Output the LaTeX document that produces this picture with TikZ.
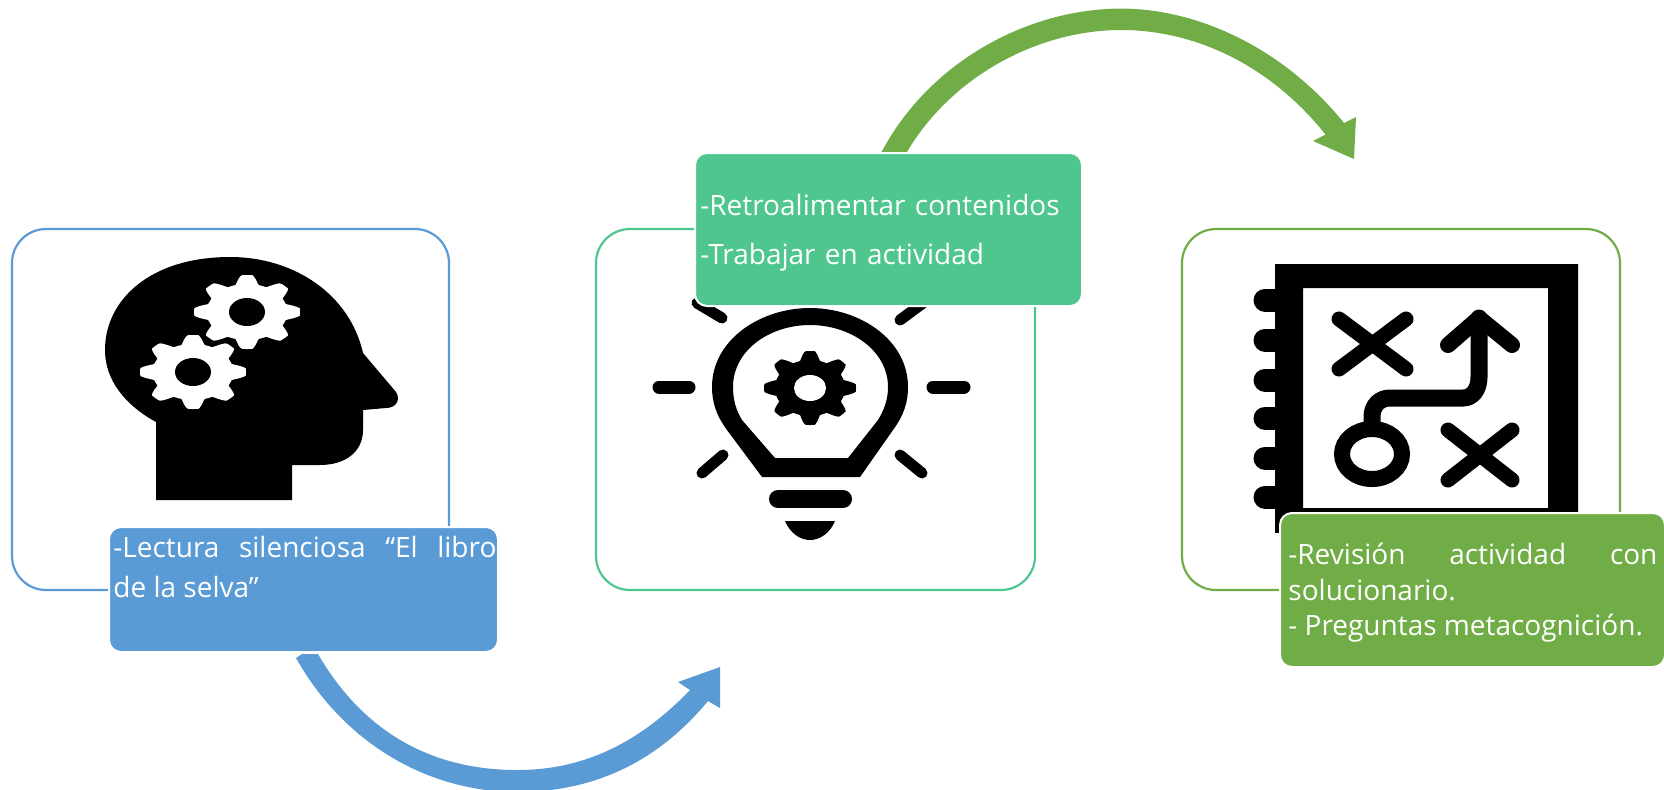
\documentclass[tikz,border=0pt]{standalone}
\usepackage{fontspec}
\setmainfont{Open Sans}
\definecolor{cblue}{HTML}{5B9BD5}
\definecolor{cteal}{HTML}{4EC68E}
\definecolor{cgreen}{HTML}{70AD47}
\newcommand{\gearshape}[5]{% cx cy rx ry color
  \fill[#5] plot[smooth cycle,samples=193,domain=0:358.125] ({#1+#3*(0.88+0.12*max(-1,min(1,1.5*cos(8*\x))))*cos(\x)},{#2+#4*(0.88+0.12*max(-1,min(1,1.5*cos(8*\x))))*sin(\x)});
}
\tikzset{
  framebox/.style={draw=#1,line width=1.1pt,rounded corners=17pt,fill=white},
  fillbox/.style={fill=#1,draw=white,line width=1pt,rounded corners=6pt},
  boxtext/.style={anchor=north west,text=white,align=justify,inner sep=0pt},
  icon/.style={line cap=round,line width=#1,draw=black}
}
\begin{document}
\begin{tikzpicture}[x=0.5pt,y=-0.5pt]
\useasboundingbox (0,0) rectangle (1664,789);
% frames
\draw[framebox=cblue] (12,229) rectangle (449,590);
\draw[framebox=cteal] (596,229) rectangle (1035,590);
\draw[framebox=cgreen] (1182,229) rectangle (1620,590);
% head icon
\fill[black] (156,500) -- (156,422) .. controls (125,405) and (105,380) .. (105,350)
  .. controls (105,300) and (150,257) .. (230,257)
  .. controls (295,257) and (350,295) .. (363,353) -- (396,392)
  .. controls (401,400) and (396,408) .. (386,408) -- (363,410) -- (363,430)
  .. controls (363,452) and (345,465) .. (320,465) -- (292,465) -- (292,500) -- cycle;
\gearshape{247}{312}{53}{37}{white}
\fill[black] (247,312) ellipse [x radius=18,y radius=14];
\gearshape{193}{372}{53}{37}{white}
\fill[black] (193,372) ellipse [x radius=18,y radius=14];
% bulb icon
\fill[black,even odd rule]
  (762,477) -- (727,430) .. controls (716,415) and (712,402) .. (712,387)
  .. controls (712,340) and (760,308) .. (810,308)
  .. controls (860,308) and (908,340) .. (908,387)
  .. controls (908,402) and (904,415) .. (893,430) -- (860,477) -- cycle
  (775,458) -- (742,420) .. controls (736,410) and (733,400) .. (733,387)
  .. controls (733,350) and (770,325) .. (810,325)
  .. controls (850,325) and (888,350) .. (888,387)
  .. controls (888,400) and (884,410) .. (878,420) -- (848,458) -- cycle;
\gearshape{810}{388}{46}{37}{black}
\fill[white] (810,388) ellipse [x radius=16,y radius=13];
\draw[icon=6.5pt] (659,387) -- (689,387);
\draw[icon=6.5pt] (933,387) -- (964,387);
\draw[icon=5.5pt] (697,303) -- (722,318);
\draw[icon=5.5pt] (900,320) -- (923,303);
\draw[icon=5.5pt] (702,473) -- (723,455);
\draw[icon=5.5pt] (900,455) -- (922,473);
\draw[icon=9pt] (778,499) -- (843,499);
\fill[black] (785,521) -- (835,521) .. controls (830,533) and (820,540) .. (810,540) .. controls (800,540) and (790,533) .. (785,521) -- cycle;
% notebook icon
\fill[black,even odd rule] (1275,264) rectangle (1578,512) (1303,288) rectangle (1548,508);
\fill[black] (1275,500) rectangle (1290,533);
\foreach \yb in {300,340,380,418,458,497}
  \draw[line width=11.5pt,line cap=round] (1265,\yb) -- (1280,\yb);
\draw[icon=7.5pt] (1339,319) -- (1406,369);
\draw[icon=7.5pt] (1406,319) -- (1339,369);
\draw[icon=7.5pt] (1448,430) -- (1512,480);
\draw[icon=7.5pt] (1512,430) -- (1448,480);
\draw[icon=8pt,line join=round] (1448,345) -- (1479,318) -- (1512,345);
\draw[icon=8.5pt] (1479,318) -- (1479,377) .. controls (1479,390) and (1472,398) .. (1463,398) -- (1390,398) .. controls (1380,398) and (1372,405) .. (1372,417) -- (1372,427);
\draw[black,line width=8pt] (1372,454) ellipse [x radius=30,y radius=25];
% arrows
\fill[cgreen] (881,153) -- (887,157) -- (904,157)
  .. controls (950,75) and (1040,30) .. (1121,30)
  .. controls (1195,30) and (1270,65) .. (1325.5,134.5)
  -- (1313,141) -- (1354,159) -- (1356,117) -- (1344,123)
  .. controls (1285,50) and (1200,8.6) .. (1121,8.6)
  .. controls (1030,8.6) and (930,60) .. (881,153) -- cycle;
\fill[cblue] (296,658) -- (302,654) -- (318,654)
  .. controls (365,735) and (435,770) .. (517,770)
  .. controls (585,770) and (640,742) .. (690,690)
  -- (678,682) -- (720,667) -- (720,708) -- (708,701)
  .. controls (655,765) and (590,792) .. (517,792)
  .. controls (430,792) and (345,745) .. (296,658) -- cycle;
% filled boxes
\node[fillbox=cblue,minimum width=194.5pt,minimum height=62.5pt,inner sep=0pt,anchor=north west] (b1) at (108,526) {};
\node[fillbox=cteal,minimum width=193.5pt,minimum height=76.5pt,inner sep=0pt,anchor=north west] (b2) at (694,152) {};
\node[fillbox=cgreen,minimum width=192.5pt,minimum height=77pt,inner sep=0pt,anchor=north west] (b3) at (1279,512) {};
\node[boxtext,text width=191.5pt,font=\fontsize{14}{19.8}\selectfont] (t1) at (113,536) {-Lectura silenciosa “El libro\linebreak de la selva”};
\node[boxtext,text width=185pt,font=\fontsize{14}{24.5}\selectfont,align=left] (t2) at (700,194) {-Retroalimentar contenidos\\-Trabajar en actividad};
\node[boxtext,text width=184.5pt,font=\fontsize{14}{17.7}\selectfont] (t3) at (1288,543) {-Revisión actividad con\linebreak solucionario.\\- Preguntas metacognición.};
\end{tikzpicture}
\end{document}
